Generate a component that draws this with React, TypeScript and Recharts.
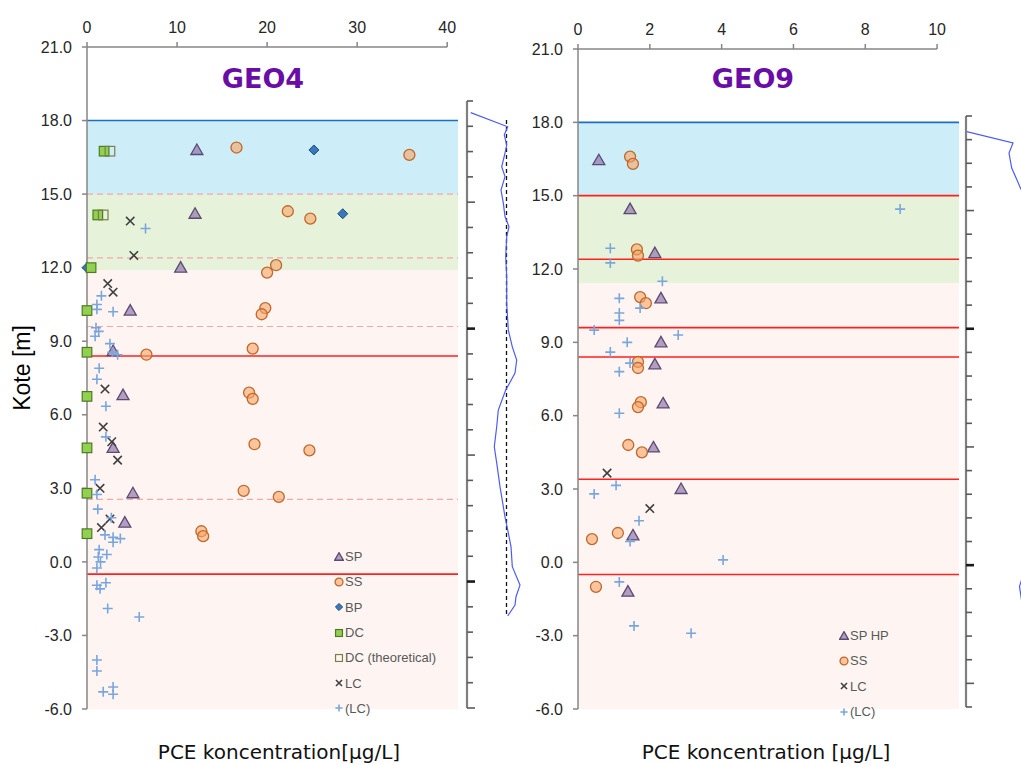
import React from "react";
import {
  ComposedChart,
  Scatter,
  Line,
  XAxis,
  YAxis,
  ReferenceArea,
  ReferenceLine,
  Legend,
} from "recharts";

// [concentration µg/L, kote m]
const geo4SP = [[12.2, 16.8], [12.0, 14.2], [10.4, 12.0], [4.8, 10.25], [2.9, 8.6], [4.0, 6.8], [2.9, 4.65], [5.1, 2.8], [4.2, 1.6]];
const geo4SS = [[16.6, 16.9], [35.8, 16.6], [22.3, 14.3], [24.8, 14.0], [20.0, 11.8], [21.0, 12.1], [19.8, 10.35], [19.4, 10.1], [6.6, 8.45], [18.4, 8.7], [18.0, 6.9], [18.4, 6.65], [18.6, 4.8], [24.7, 4.55], [17.4, 2.9], [21.3, 2.65], [12.7, 1.25], [12.9, 1.05]];
const geo4BP = [[25.2, 16.8], [28.4, 14.2], [0, 12.0]];
const geo4DC = [[1.9, 16.75], [1.2, 14.15], [0.45, 12.0], [0, 10.25], [0, 8.55], [0, 6.75], [0, 4.65], [0, 2.8], [0, 1.15]];
const geo4DCtheo = [[2.55, 16.75], [1.8, 14.15]];
const geo4LC = [[4.8, 13.9], [5.2, 12.5], [2.3, 11.35], [2.9, 11.0], [2.0, 7.05], [1.8, 5.5], [2.75, 4.9], [3.4, 4.15], [1.45, 3.0], [2.55, 1.75], [1.6, 1.4]];
const geo4LCp = [[6.5, 13.6], [1.6, 10.85], [1.1, 10.5], [1.1, 10.3], [2.9, 10.2], [1.0, 9.55], [1.3, 9.4], [0.9, 9.2], [2.55, 8.9], [2.8, 8.55], [3.4, 8.45], [1.35, 7.9], [1.1, 7.45], [2.1, 6.35], [2.1, 5.1], [0.9, 3.35], [1.1, 2.75], [1.2, 2.15], [2.7, 1.8], [2.0, 1.1], [2.9, 1.0], [3.7, 0.95], [2.9, 0.8], [1.35, 0.5], [2.2, 0.3], [1.25, 0.2], [1.5, 0.0], [1.1, -0.25], [2.1, -0.85], [1.1, -0.95], [1.45, -1.1], [2.3, -1.9], [5.8, -2.25], [1.1, -4.0], [1.1, -4.45], [2.9, -5.1], [1.8, -5.3], [2.9, -5.4]];

const geo9SP = [[0.58, 16.45], [1.45, 14.45], [2.14, 12.65], [2.31, 10.8], [2.31, 9.0], [2.14, 8.1], [2.37, 6.5], [2.1, 4.7], [2.87, 3.0], [1.53, 1.1], [1.39, -1.2]];
const geo9SS = [[1.45, 16.6], [1.53, 16.3], [1.64, 12.8], [1.67, 12.55], [1.73, 10.85], [1.89, 10.6], [1.67, 8.2], [1.67, 7.95], [1.75, 6.55], [1.67, 6.35], [1.4, 4.8], [1.78, 4.5], [0.39, 0.95], [1.11, 1.2], [0.5, -1.0]];
const geo9LC = [[0.81, 3.65], [2.0, 2.2]];
const geo9LCp = [[8.97, 14.45], [0.9, 12.85], [0.9, 12.25], [2.35, 11.5], [1.15, 10.8], [1.73, 10.4], [1.15, 10.2], [1.15, 9.9], [0.45, 9.5], [2.79, 9.3], [1.37, 9.0], [0.9, 8.6], [1.45, 8.15], [1.15, 7.8], [1.15, 6.1], [1.06, 3.15], [0.45, 2.8], [1.7, 1.7], [1.45, 0.85], [4.04, 0.1], [1.15, -0.8], [1.56, -2.6], [3.15, -2.9]];

const koteTicks = [-6, -3, 0, 3, 6, 9, 12, 15, 18, 21];
const geo4XTicks = [0, 10, 20, 30, 40];
const geo9XTicks = [0, 2, 4, 6, 8, 10];

// layer boundaries (kote)
const geo4Bands = [[15, 18, "#CDEDF8"], [11.9, 15, "#E6F3DA"], [-6, 11.9, "#FEF5F2"]];
const geo4Solid = [[18, "#1F6FC0"], [8.4, "#FF2020"], [-0.5, "#FF2020"]];
const geo4Dashed = [15, 12.4, 9.6, 2.55];
const geo9Bands = [[15, 18, "#CDEDF8"], [11.43, 15, "#E6F3DA"], [-6, 11.43, "#FEF5F2"]];
const geo9Solid = [[18, "#1F6FC0"], [15, "#FF2020"], [12.4, "#FF2020"], [9.6, "#FF2020"], [8.4, "#FF2020"], [3.4, "#FF2020"], [-0.5, "#FF2020"]];

// borehole log profiles [value, depth tick]
const geo4Log = [[3.7, 0.46], [40.7, 1.02], [37.3, 1.34], [39.7, 1.74], [38, 2.06], [34.7, 2.6], [38, 2.99], [34, 3.52], [36.3, 4.03], [38, 4.57], [42, 4.97], [39.7, 5.37], [38.7, 6.16], [39.7, 6.95], [39.7, 7.99], [41.3, 9.05], [45.3, 9.72], [49.7, 10.24], [48, 10.76], [38.7, 11.43], [31.3, 12.22], [29.7, 12.88], [27.3, 13.67], [29.7, 14.31], [33, 15.25], [38, 16.44], [41.3, 17.08], [44, 17.62], [45.3, 18.41], [53, 19.14], [49, 19.6], [48, 19.93], [40.7, 20.36]];
const geo9Log = [[0.7, 0.66], [47, 1.14], [43, 1.57], [45.7, 2.2], [54, 3.0], [79, 5.2], [94, 12], [74, 17.9], [58, 19.3], [53.5, 19.9], [56, 20.6], [64, 22.2]];

const pts = (a: number[][]) => a.map(([x, y]) => ({ x, y }));
const logPts = (a: number[][]) => a.map(([v, d]) => ({ v, d }));

const STYLE: Record<string, any> = {
  SP: { kind: "tri", fill: "rgba(128,100,162,0.6)", stroke: "#5C4A72" },
  "SP HP": { kind: "tri", fill: "rgba(128,100,162,0.6)", stroke: "#5C4A72" },
  SS: { kind: "circ", fill: "rgba(247,165,100,0.6)", stroke: "#C0672C" },
  BP: { kind: "dia", fill: "#3A78BC", stroke: "#1F4E79" },
  DC: { kind: "sq", fill: "#92D050", stroke: "#4E7A27" },
  "DC (theoretical)": { kind: "sq", fill: "none", stroke: "#7A7F4A" },
  LC: { kind: "x", fill: "none", stroke: "#404040" },
  "(LC)": { kind: "plus", fill: "none", stroke: "#7AA6DE" },
};

function Mark({ name, cx, cy, s }: { name: string; cx: number; cy: number; s: number }) {
  const st = STYLE[name];
  const sw = 1.3;
  if (st.kind === "tri")
    return <path d={`M${cx},${cy - 6 * s}L${cx + 6 * s},${cy + 4.5 * s}L${cx - 6 * s},${cy + 4.5 * s}Z`} fill={st.fill} stroke={st.stroke} strokeWidth={sw} />;
  if (st.kind === "circ") return <circle cx={cx} cy={cy} r={5.5 * s} fill={st.fill} stroke={st.stroke} strokeWidth={sw} />;
  if (st.kind === "dia")
    return <path d={`M${cx},${cy - 5 * s}L${cx + 5 * s},${cy}L${cx},${cy + 5 * s}L${cx - 5 * s},${cy}Z`} fill={st.fill} stroke={st.stroke} strokeWidth={1} />;
  if (st.kind === "sq") {
    const h = 4.8 * s;
    return <rect x={cx - h} y={cy - h} width={2 * h} height={2 * h} fill={st.fill} stroke={st.stroke} strokeWidth={1.2} />;
  }
  if (st.kind === "x") {
    const h = 4.2 * s;
    return <path d={`M${cx - h},${cy - h}L${cx + h},${cy + h}M${cx - h},${cy + h}L${cx + h},${cy - h}`} stroke={st.stroke} strokeWidth={1.6} />;
  }
  const h = 5 * s;
  return <path d={`M${cx - h},${cy}L${cx + h},${cy}M${cx},${cy - h}L${cx},${cy + h}`} stroke={st.stroke} strokeWidth={1.6} />;
}

function LegendBox(props: any) {
  const order: string[] = props.order;
  const items = [...(props.payload || [])].sort((a: any, b: any) => order.indexOf(a.value) - order.indexOf(b.value));
  return (
    <div style={{ fontFamily: "'Liberation Sans', Arial, sans-serif", fontSize: 13, color: "#595959" }}>
      {items.map((it: any) => (
        <div key={it.value} style={{ display: "flex", alignItems: "center", height: 25.3 }}>
          <svg width={10} height={10} style={{ display: "block" }}>
            <Mark name={it.value} cx={5} cy={5} s={0.72} />
          </svg>
          <span style={{ marginLeft: 1 }}>{it.value}</span>
        </div>
      ))}
    </div>
  );
}

const tickFont = { fontFamily: "'Liberation Sans', Arial, sans-serif", fontSize: 16, fill: "#262626" };
const axisStroke = { stroke: "#868686", strokeWidth: 1.5 };

function DepthChart(props: {
  left: number;
  width: number;
  marginLeft: number;
  top: number;
  xMax: number;
  xTicks: number[];
  bands: any[];
  solid: any[];
  dashed: number[];
  series: [string, number[][]][];
  legendLeft: number;
  legendTop: number;
}) {
  const { left, width, marginLeft, top, xMax, xTicks, bands, solid, dashed, series, legendLeft, legendTop } = props;
  const names = series.map((s) => s[0]);
  return (
    <div style={{ position: "absolute", left, top: 0 }}>
      <ComposedChart width={width} height={765} margin={{ top: top - 30, right: 5, bottom: 56, left: marginLeft }}>
        <XAxis
          type="number"
          dataKey="x"
          orientation="top"
          domain={[0, xMax]}
          ticks={xTicks}
          height={30}
          axisLine={false}
          tickLine={axisStroke}
          tickSize={5}
          tickMargin={9}
          tick={tickFont}
        />
        <YAxis
          type="number"
          dataKey="y"
          domain={[-6, 21]}
          ticks={koteTicks}
          width={60}
          axisLine={axisStroke}
          tickLine={axisStroke}
          tickSize={5}
          tickMargin={10}
          tick={tickFont}
          tickFormatter={(v: number) => v.toFixed(1)}
        />
        {bands.map(([y1, y2, c]) => (
          <ReferenceArea key={`b${y1}`} y1={y1} y2={y2} fill={c} fillOpacity={1} stroke="none" />
        ))}
        {dashed.map((y) => (
          <ReferenceLine key={`d${y}`} y={y} stroke="#F6A8A8" strokeWidth={1.2} strokeDasharray="6 4" />
        ))}
        {solid.map(([y, c]) => (
          <ReferenceLine key={`s${y}`} y={y} stroke={c} strokeWidth={1.6} />
        ))}
        <ReferenceLine
          segment={[{ x: 0, y: 21 }, { x: xTicks[xTicks.length - 1], y: 21 }]}
          ifOverflow="visible"
          {...axisStroke}
        />
        {series.map(([name, data]) => (
          <Scatter
            key={name}
            name={name}
            data={pts(data)}
            isAnimationActive={false}
            shape={(p: any) => <Mark name={name} cx={p.cx} cy={p.cy} s={1} />}
          />
        ))}
        <Legend
          layout="vertical"
          align="center"
          verticalAlign="middle"
          content={(p: any) => <LegendBox {...p} order={names} />}
          wrapperStyle={{ position: "absolute", left: legendLeft, top: legendTop, width: 140, height: "auto" }}
        />
      </ComposedChart>
    </div>
  );
}

function ProfileTick(props: any) {
  const { x, y, index } = props;
  const k = index % 10;
  const len = k === 4 || k === 9 ? 8 : 6;
  return <line x1={x} y1={y} x2={x + len} y2={y} stroke={k === 9 ? "#1A1A1A" : "#5A5A5A"} strokeWidth={k === 9 ? 2.6 : 1.6} />;
}

function LogProfile(props: { left: number; top: number; bottom: number; n: number; vMax: number; width: number; data: number[][]; dash?: number[] }) {
  const { left, top, bottom, n, vMax, width, data, dash } = props;
  const ticks = Array.from({ length: n + 1 }, (_, i) => i);
  return (
    <div style={{ position: "absolute", left, top: 0 }}>
      <ComposedChart layout="vertical" width={width} height={765} data={logPts(data)} margin={{ top, bottom: 765 - bottom, left: 0, right: width - 7 - vMax }}>
        <XAxis type="number" dataKey="v" domain={[0, vMax]} hide />
        <YAxis
          type="number"
          dataKey="d"
          domain={[0, n]}
          ticks={ticks}
          interval={0}
          width={7}
          axisLine={{ stroke: "#7F7F7F", strokeWidth: 2.2 }}
          tickLine={false}
          tickSize={0}
          tickMargin={0}
          tick={ProfileTick}
        />
        {dash && (
          <ReferenceLine segment={[{ x: dash[0], y: dash[1] }, { x: dash[0], y: dash[2] }]} stroke="#111" strokeWidth={1.3} strokeDasharray="4 3" />
        )}
        <Line dataKey="v" stroke="#4F5CF2" strokeWidth={1.2} dot={false} isAnimationActive={false} />
      </ComposedChart>
    </div>
  );
}

const titleStyle: React.CSSProperties = {
  position: "absolute",
  width: 200,
  textAlign: "center",
  fontFamily: "'DejaVu Sans', sans-serif",
  fontWeight: "bold",
  fontSize: 27,
  color: "#6A0DA6",
  lineHeight: "30px",
};
const xLabelStyle: React.CSSProperties = {
  position: "absolute",
  width: 400,
  textAlign: "center",
  fontFamily: "'DejaVu Sans', sans-serif",
  fontSize: 20,
  color: "#111",
  lineHeight: "24px",
};

export default function App() {
  return (
    <div style={{ position: "fixed", left: 0, top: 0, width: 1021, height: 765, overflow: "hidden", background: "#fff" }}>
      <DepthChart
        left={0}
        width={463}
        marginLeft={27}
        top={47}
        xMax={41.2}
        xTicks={geo4XTicks}
        bands={geo4Bands}
        solid={geo4Solid}
        dashed={geo4Dashed}
        series={[
          ["SP", geo4SP],
          ["SS", geo4SS],
          ["BP", geo4BP],
          ["DC", geo4DC],
          ["DC (theoretical)", geo4DCtheo],
          ["LC", geo4LC],
          ["(LC)", geo4LCp],
        ]}
        legendLeft={334}
        legendTop={544}
      />
      <DepthChart
        left={490}
        width={474}
        marginLeft={28}
        top={49}
        xMax={10.61}
        xTicks={geo9XTicks}
        bands={geo9Bands}
        solid={geo9Solid}
        dashed={[]}
        series={[
          ["SP HP", geo9SP],
          ["SS", geo9SS],
          ["LC", geo9LC],
          ["(LC)", geo9LCp],
        ]}
        legendLeft={349}
        legendTop={623}
      />
      <LogProfile left={460} top={101} bottom={708} n={24} vMax={60} width={70} data={geo4Log} dash={[39.5, 0.75, 20.36]} />
      <LogProfile left={959} top={116} bottom={707} n={25} vMax={103} width={130} data={geo9Log} />

      <div style={{ ...titleStyle, left: 163, top: 64 }}>GEO4</div>
      <div style={{ ...titleStyle, left: 653, top: 64 }}>GEO9</div>
      <div style={{ ...xLabelStyle, left: 79, top: 740 }}>PCE koncentration[µg/L]</div>
      <div style={{ ...xLabelStyle, left: 566, top: 740 }}>PCE koncentration [µg/L]</div>
      <div
        style={{
          position: "absolute",
          left: 22,
          top: 368,
          transform: "translate(-50%, -50%) rotate(-90deg)",
          fontFamily: "'Liberation Sans', Arial, sans-serif",
          fontSize: 23,
          color: "#000",
          whiteSpace: "nowrap",
        }}
      >
        Kote [m]
      </div>
    </div>
  );
}
